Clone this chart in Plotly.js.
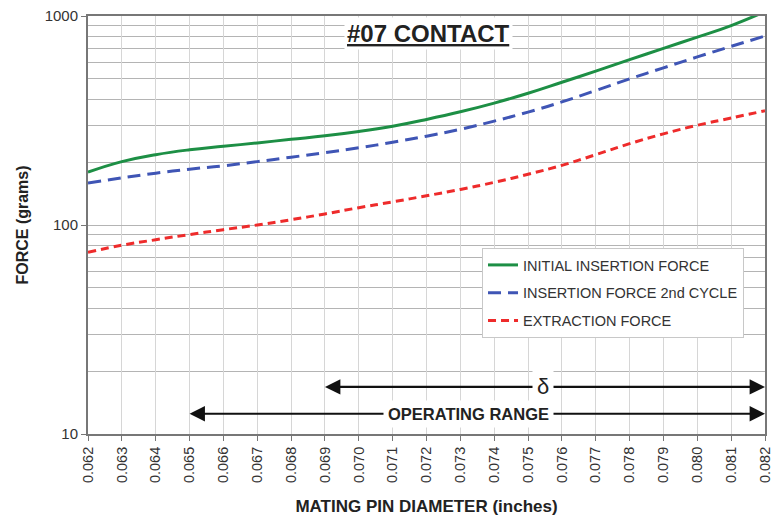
<!DOCTYPE html>
<html>
<head>
<meta charset="utf-8">
<script src="https://cdn.plot.ly/plotly-3.0.1.min.js"></script>
<style>html,body{margin:0;padding:0;background:#fff;}#chart{width:781px;height:518px;}</style>
</head>
<body>
<div id="chart"></div>
<script>
const diameters = [0.062,0.063,0.064,0.065,0.066,0.067,0.068,0.069,0.070,0.071,0.072,0.073,0.074,0.075,0.076,0.077,0.078,0.079,0.080,0.081,0.082];
const tickLabels = ["0.062","0.063","0.064","0.065","0.066","0.067","0.068","0.069","0.070","0.071","0.072","0.073","0.074","0.075","0.076","0.077","0.078","0.079","0.080","0.081","0.082"];
const initialInsertion = [179,201,217,229,238,247,257,267,280,297,320,348,383,427,482,545,618,700,792,900,1050];
const insertion2nd = [159,168,177,185,192,201,211,222,234,249,266,287,314,347,388,440,500,565,637,716,802];
const extraction = [74,80,85,90,95,100,106,113,121,129,138,148,160,175,193,217,245,273,300,325,352];
const seriesNames = ["INITIAL INSERTION FORCE","INSERTION FORCE 2nd CYCLE","EXTRACTION FORCE"];
const yMajor = [10,100,1000];
const yMajorText = ["10","100","1000"];
const yMinor = [20,30,40,50,60,70,80,90,200,300,400,500,600,700,800,900];
const deltaRange = [0.069, 0.082];
const operatingRange = [0.065, 0.082];
const deltaY = 16.8, opY = 12.5;

const font = "Liberation Sans, Arial, sans-serif";
const traces = [
  {x: diameters, y: initialInsertion, name: seriesNames[0], mode: 'lines', line: {color: '#1d8f45', width: 3, shape: 'spline', smoothing: 1.3}, legendgroup: 'a'},
  {x: diameters, y: insertion2nd, name: seriesNames[1], mode: 'lines', line: {color: '#3f55b5', width: 3, dash: '13px,7px', shape: 'spline', smoothing: 1.3}, legendgroup: 'b'},
  {x: diameters, y: extraction, name: seriesNames[2], mode: 'lines', line: {color: '#ee2b2b', width: 3, dash: '8px,5px', shape: 'spline', smoothing: 1.3}, legendgroup: 'c'}
];

function arrowPair(range, y, cx, text, size, bold) {
  const out = [];
  [range[0], range[1]].forEach(function(end){
    out.push({x: end, y: Math.log10(y), ax: cx, ay: Math.log10(y), xref: 'x', yref: 'y', axref: 'x', ayref: 'y',
      text: '', showarrow: true, arrowhead: 2, arrowsize: 1.4, arrowwidth: 2.2, arrowcolor: '#111'});
  });
  out.push({x: cx, y: Math.log10(y), xref: 'x', yref: 'y', text: bold ? '<b>' + text + '</b>' : text, showarrow: false,
    bgcolor: '#ffffff', borderpad: 4, font: {family: font, size: size, color: '#222'}});
  return out;
}

const annotations = [
  {x: 0.503, y: 0.959, xref: 'paper', yref: 'paper', yanchor: 'middle', xanchor: 'center', text: '<b><u>#07 CONTACT</u></b>', showarrow: false,
   bgcolor: '#ffffff', borderpad: 2, font: {family: font, size: 24, color: '#222'}}
].concat(arrowPair(deltaRange, deltaY, 0.07545, 'δ', 22, false))
 .concat(arrowPair(operatingRange, opY, 0.07325, 'OPERATING RANGE', 16.5, true));

const layout = {
  width: 781, height: 518,
  margin: {l: 88, r: 16, t: 16, b: 84},
  paper_bgcolor: '#fff', plot_bgcolor: '#fff',
  font: {family: font, color: '#333'},
  showlegend: true,
  legend: {x: 0.582, y: 0.445, xanchor: 'left', yanchor: 'top', bgcolor: '#fff', bordercolor: '#c8c8c8', borderwidth: 1,
    font: {family: font, size: 14.5, color: '#333'}, traceorder: 'grouped', tracegroupgap: 6},
  xaxis: {range: [0.062, 0.082], tickmode: 'array', tickvals: diameters, ticktext: tickLabels, tickangle: -90,
    tickfont: {family: font, size: 14.5, color: '#333'}, ticks: 'outside', ticklen: 5, tickcolor: '#777',
    showgrid: true, gridcolor: '#d6d6d6', gridwidth: 1, showline: true, linecolor: '#777', linewidth: 2, mirror: true,
    zeroline: false,
    title: {text: '<b>MATING PIN DIAMETER (inches)</b>', font: {family: font, size: 17, color: '#222'}, standoff: 18}},
  yaxis: {type: 'log', range: [1, 3], tickmode: 'array', tickvals: yMajor, ticktext: yMajorText,
    tickfont: {family: font, size: 15, color: '#333'}, ticks: 'outside', ticklen: 5, tickcolor: '#777',
    showgrid: true, gridcolor: '#b4b4b4', gridwidth: 1, showline: true, linecolor: '#777', linewidth: 2, mirror: true,
    minor: {tickmode: 'array', tickvals: yMinor, showgrid: true, gridcolor: '#b4b4b4', gridwidth: 1, ticks: ''},
    title: {text: '<b>FORCE (grams)</b>', font: {family: font, size: 16, color: '#222'}, standoff: 12}},
  annotations: annotations
};

Plotly.newPlot('chart', traces, layout, {displayModeBar: false, staticPlot: true});
</script>
</body>
</html>
